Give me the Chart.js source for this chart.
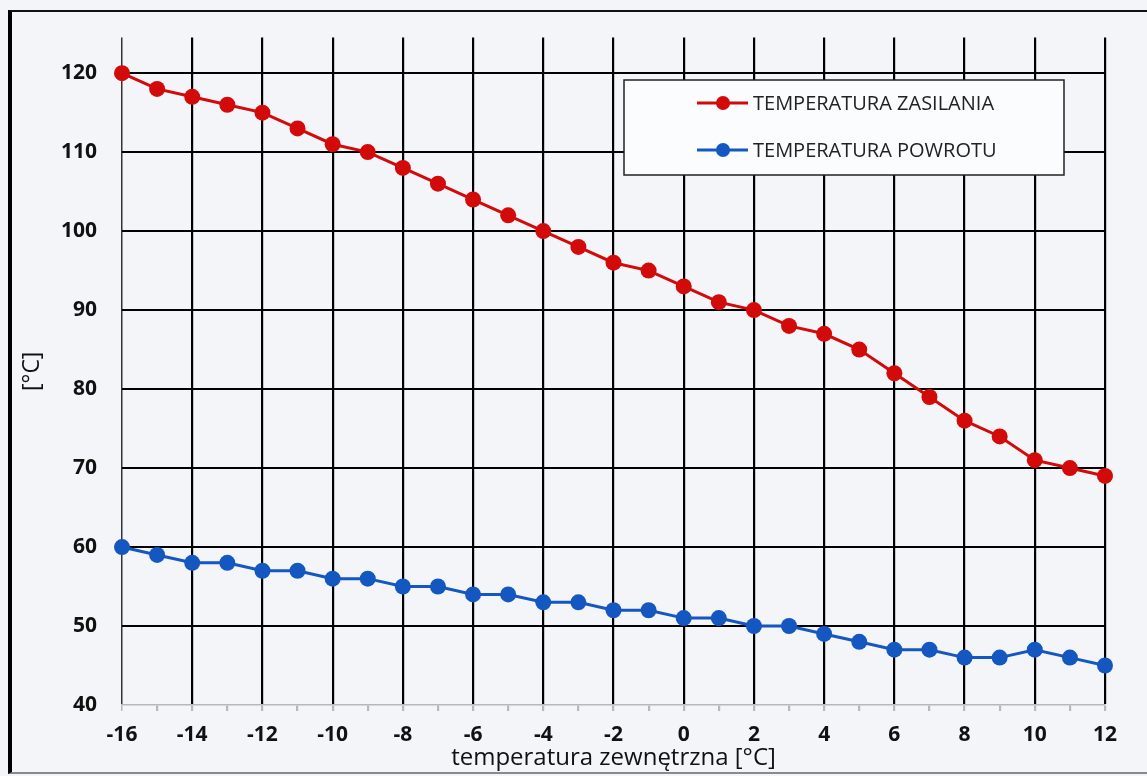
<!DOCTYPE html>
<html lang="pl">
<head>
<meta charset="UTF-8">
<title>Temperatura zasilania i powrotu</title>
<script src="https://cdn.jsdelivr.net/npm/chart.js"></script>
<style>
  html, body { margin: 0; padding: 0; background: #f3f5f9; }
  #wrap { position: relative; width: 1147px; height: 776px; }
  #frame {
    position: absolute; left: 8px; top: 10px; right: -10px; bottom: 2px;
    border-left: 4px solid #000; border-top: 2px solid #111; border-bottom: 2px solid #8a8a8a;
    pointer-events: none;
  }
  canvas { position: absolute; left: 0; top: 0; }
</style>
</head>
<body>
<div id="wrap">
  <div id="frame"></div>
  <canvas id="myChart" width="1147" height="776"></canvas>
</div>
<script>
  // temperatura zewnetrzna [oC]
  const outdoorTemps = [-16, -15, -14, -13, -12, -11, -10, -9, -8, -7, -6, -5, -4, -3, -2,
                        -1, 0, 1, 2, 3, 4, 5, 6, 7, 8, 9, 10, 11, 12];
  const supplyTemps = [120, 118, 117, 116, 115, 113, 111, 110, 108, 106, 104, 102, 100, 98, 96,
                       95, 93, 91, 90, 88, 87, 85, 82, 79, 76, 74, 71, 70, 69];
  const returnTemps = [60, 59, 58, 58, 57, 57, 56, 56, 55, 55, 54, 54, 53, 53, 52,
                       52, 51, 51, 50, 50, 49, 48, 47, 47, 46, 46, 47, 46, 45];
  const seriesNames = ['TEMPERATURA ZASILANIA', 'TEMPERATURA POWROTU'];
  const yTicks = [40, 50, 60, 70, 80, 90, 100, 110, 120];

  const RED = '#d20a0a';
  const BLUE = '#1557c0';

  // legend drawn inside the plot, like the original
  const boxLegend = {
    id: 'boxLegend',
    afterDatasetsDraw(chart) {
      const ctx = chart.ctx;
      ctx.save();
      ctx.fillStyle = '#fbfcfe';
      ctx.strokeStyle = '#222';
      ctx.lineWidth = 1.5;
      ctx.fillRect(624, 80, 440, 95);
      ctx.strokeRect(624, 80, 440, 95);
      chart.data.datasets.forEach((ds, i) => {
        const y = 103 + i * 47;
        ctx.strokeStyle = ds.borderColor;
        ctx.lineWidth = 3;
        ctx.beginPath();
        ctx.moveTo(697, y);
        ctx.lineTo(748, y);
        ctx.stroke();
        ctx.fillStyle = ds.borderColor;
        ctx.beginPath();
        ctx.arc(723, y, 7, 0, Math.PI * 2);
        ctx.fill();
        ctx.fillStyle = '#222';
        ctx.font = '20px "Open Sans"';
        ctx.textBaseline = 'middle';
        ctx.fillText(ds.label, 753, y + 1);
      });
      ctx.restore();
    }
  };

  const ctx = document.getElementById('myChart').getContext('2d');
  new Chart(ctx, {
    type: 'line',
    data: {
      datasets: [
        {
          label: seriesNames[0],
          data: outdoorTemps.map((t, i) => ({ x: t, y: supplyTemps[i] })),
          borderColor: RED,
          backgroundColor: RED,
          borderWidth: 3,
          pointRadius: 8,
          pointBorderWidth: 0,
          clip: false
        },
        {
          label: seriesNames[1],
          data: outdoorTemps.map((t, i) => ({ x: t, y: returnTemps[i] })),
          borderColor: BLUE,
          backgroundColor: BLUE,
          borderWidth: 3,
          pointRadius: 8,
          pointBorderWidth: 0,
          clip: false
        }
      ]
    },
    options: {
      responsive: false,
      animation: false,
      layout: { padding: { left: 19, top: 30, right: 42, bottom: 3 } },
      scales: {
        x: {
          type: 'linear',
          min: -16,
          max: 12,
          afterFit: s => { s.height = 68; },
          ticks: {
            stepSize: 1,
            padding: 11,
            autoSkip: false,
            maxRotation: 0,
            minRotation: 0,
            color: '#111',
            font: { family: '"Open Sans"', size: 21, weight: 'bold' },
            callback: v => (v % 2 === 0 ? String(v) : '')
          },
          grid: {
            drawTicks: true,
            tickLength: 6,
            tickColor: '#b8b8b8',
            color: c => {
              const v = c.tick.value;
              if (v === -16) return '#333';
              return v % 2 === 0 ? '#000' : 'rgba(0,0,0,0)';
            },
            lineWidth: c => (c.tick.value === -16 ? 1.5 : 2.2)
          },
          border: { display: true, color: '#b8b8b8', width: 1.5 },
          title: {
            display: true,
            text: 'temperatura zewnętrzna [°C]',
            color: '#111',
            font: { family: '"Open Sans"', size: 24 },
            padding: 0
          }
        },
        y: {
          min: 40,
          max: 124.5,
          afterFit: s => { s.width = 103; },
          afterBuildTicks: s => { s.ticks = yTicks.map(v => ({ value: v })); },
          ticks: {
            padding: 25,
            color: '#111',
            font: { family: '"Open Sans"', size: 21, weight: 'bold' }
          },
          grid: {
            drawTicks: false,
            color: c => (c.tick.value === 40 ? 'rgba(0,0,0,0)' : '#000'),
            lineWidth: 2
          },
          border: { display: false },
          title: {
            display: true,
            text: '[°C]',
            color: '#111',
            font: { family: '"Open Sans"', size: 23 },
            padding: 0
          }
        }
      },
      plugins: {
        legend: { display: false },
        tooltip: { enabled: false }
      }
    },
    plugins: [boxLegend]
  });
</script>
</body>
</html>
